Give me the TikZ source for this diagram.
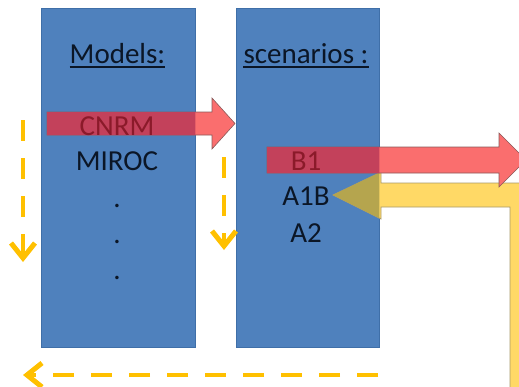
\documentclass[tikz,border=0pt]{standalone}
\usepackage{fontspec}
\setmainfont{Carlito}
\usetikzlibrary{arrows.meta,calc}
\definecolor{boxblue}{HTML}{4F81BD}
\definecolor{boxedge}{HTML}{3F6FA8}
\definecolor{redlight}{HTML}{FA6E6E}
\definecolor{reddark}{HTML}{C3415B}
\definecolor{rededge}{HTML}{8A5A5A}
\definecolor{redtext}{HTML}{8B1A2A}
\definecolor{yellowfill}{HTML}{FFD966}
\definecolor{yellowdark}{HTML}{B5A54E}
\definecolor{yellowedge}{HTML}{A89A6A}
\definecolor{dashyellow}{HTML}{FFC000}
\definecolor{textdark}{HTML}{0B1626}
\begin{document}
\begin{tikzpicture}[x=1pt,y=-1pt,
  colbox/.style={fill=boxblue,draw=boxedge,line width=0.8pt,minimum width=#1,minimum height=339pt,inner sep=0pt},
  txt/.style={anchor=base,inner sep=0pt,font=\fontsize{29}{35}\selectfont,text=textdark},
  redtxt/.style={txt,text=redtext},
  uline/.style={draw=textdark,line width=1.3pt},
  flow/.style={draw=dashyellow,line width=4.5pt,dash pattern=on 21pt off 17pt,-{Straight Barb[length=15pt,width=24pt,line width=5pt]}},
  redarrow/.style={fill=redlight,draw=rededge,line width=0.6pt},
  yelarrow/.style={fill=yellowfill,draw=yellowedge,line width=0.8pt}
 ]
\useasboundingbox (0,0) rectangle (519,386);
\clip (0,0) rectangle (519,386);
% columns
\node[colbox=154pt] (models) at (118,177.5) {};
\node[colbox=143pt] (scen) at (307.5,177.5) {};
% yellow feedback arrow
\path[yelarrow] (333,195) -- (381,172) -- (381,183) -- (535,183) -- (535,400) -- (510,400) -- (510,207) -- (381,207) -- (381,219) -- cycle;
\begin{scope}
  \clip (scen.north west) rectangle (scen.south east);
  \fill[yellowdark] (333,195) -- (381,172) -- (381,183) -- (535,183) -- (535,400) -- (510,400) -- (510,207) -- (381,207) -- (381,219) -- cycle;
\end{scope}
% red arrows
\path[redarrow] (47,112) -- (212,112) -- (212,98) -- (235,123.5) -- (212,149) -- (212,135) -- (47,135) -- cycle;
\path[redarrow] (267,147) -- (499,147) -- (499,133) -- (526,160) -- (499,187) -- (499,173) -- (267,173) -- cycle;
\begin{scope}
  \clip (models.north west) rectangle (models.south east);
  \fill[reddark] (47,112) -- (212,112) -- (212,98) -- (235,123.5) -- (212,149) -- (212,135) -- (47,135) -- cycle;
\end{scope}
\begin{scope}
  \clip (scen.north west) rectangle (scen.south east);
  \fill[reddark] (267,147) -- (499,147) -- (499,133) -- (526,160) -- (499,187) -- (499,173) -- (267,173) -- cycle;
\end{scope}
% texts
\node[txt] (mh) at (117.5,63) {Models:};
\draw[uline] ($(mh.base west)+(0,4)$) -- ($(mh.base east)+(0,4)$);
\node[txt] (sh) at (306,63) {scenarios :};
\draw[uline] ($(sh.base west)+(0,4)$) -- ($(sh.base east)+(0,4)$);
\node[redtxt] (cnrm) at (117,135) {CNRM};
\node[txt] (miroc) at (117,170) {MIROC};
\node[txt] (d1) at (117,207) {.};
\node[txt] (d2) at (117,243) {.};
\node[txt] (d3) at (117,279) {.};
\node[redtxt] (b1) at (306,170) {B1};
\node[txt] (a1b) at (306,205) {A1B};
\node[txt] (a2) at (306,242) {A2};
% dashed loop arrows
\coordinate (l1s) at (23,120);
\coordinate (l1e) at (23,262);
\coordinate (l2s) at (224,157);
\coordinate (l2e) at (224,250);
\coordinate (l3s) at (378,375);
\coordinate (l3e) at (23,375);
\draw[flow] (l1s) -- (l1e);
\draw[flow] (l2s) -- (l2e);
\draw[flow] (l3s) -- (l3e);
\end{tikzpicture}
\end{document}
